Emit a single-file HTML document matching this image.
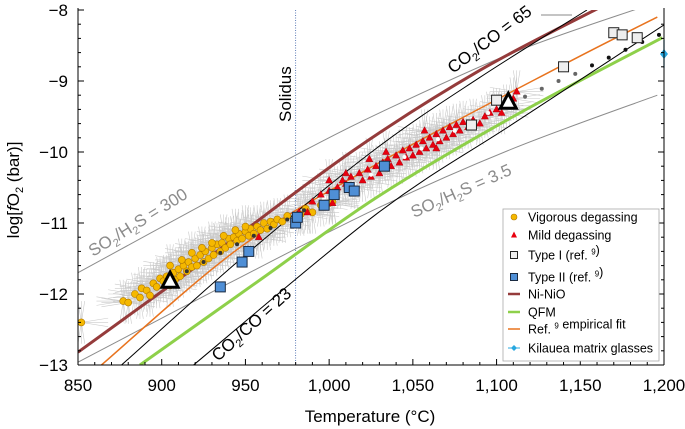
<!DOCTYPE html>
<html><head><meta charset="utf-8"><style>
body{margin:0;background:#fff}
svg{display:block;font-family:"Liberation Sans",sans-serif}
</style></head><body>
<svg id="c" width="685" height="429" viewBox="0 0 685 429"></svg>
<script>
const xTicks=[850,900,950,1000,1050,1100,1150,1200];
const xTickLabels=["850","900","950","1,000","1,050","1,100","1,150","1,200"];
const yTicks=[-13,-12,-11,-10,-9,-8];
const yTickLabels=["\u221213","\u221212","\u221211","\u221210","\u22129","\u22128"];
const niNiO=[[850,-12.82],[930,-11.45],[1015,-9.97],[1090,-8.85],[1162,-7.96]];
const qfm=[[887,-13],[960,-11.78],[1029,-10.63],[1110,-9.5],[1199,-8.39]];
const empFit=[[864,-13],[947,-11.34],[1030,-10.15],[1140,-8.77],[1196,-8.1]];
const co65=[[876,-13],[950,-11.45],[1027,-9.97],[1090,-8.95],[1154,-8]];
const co23=[[919,-13],[1029,-10.86],[1110,-9.6],[1200,-8.21]];
const so300=[[850,-11.7],[920,-10.8],[986,-9.97],[1030,-9.45],[1110,-8.6],[1187,-7.96]];
const so35=[[850,-12.96],[940,-11.85],[1029,-10.79],[1110,-9.95],[1196,-9.2]];
const vigT=[852,877,880,884,887,888,891,893,895,897,899,901,903,905,907,908,910,911,913,915,916,918,920,921,923,925,926,928,930,931,933,935,936,938,940,941,943,945,946,948,950,952,953,955,957,959,961,963,965,967,969,972,975,983,986,990,995,1000,1002,905,912,918,924,930,937,944,950];
const vigY=[-12.4,-12.1,-12.12,-12.0,-12.05,-11.92,-11.95,-12.02,-11.85,-11.9,-11.78,-11.82,-11.75,-11.88,-11.7,-11.8,-11.65,-11.75,-11.6,-11.68,-11.55,-11.62,-11.5,-11.6,-11.45,-11.55,-11.4,-11.5,-11.35,-11.45,-11.3,-11.4,-11.28,-11.35,-11.22,-11.3,-11.2,-11.25,-11.15,-11.22,-11.12,-11.18,-11.08,-11.15,-11.05,-11.1,-11.0,-11.08,-10.98,-11.02,-10.95,-10.98,-10.9,-10.88,-10.8,-10.85,-10.75,-10.72,-10.7,-11.6,-11.52,-11.42,-11.35,-11.28,-11.18,-11.1,-11.05];
const mildT=[958,982,987,1002,990,995,1000,1005,1008,1010,1013,1015,1018,1020,1023,1025,1028,1030,1032,1035,1037,1040,1042,1044,1046,1048,1050,1052,1054,1056,1058,1060,1062,1064,1066,1068,1070,1072,1074,1076,1078,1080,1083,1086,1090,1093,1096,1100,1103,1106,1110,1112,1024,1010,1000,1034,1057,1064];
const mildY=[-11.2,-10.85,-10.85,-10.72,-10.7,-10.6,-10.55,-10.5,-10.4,-10.45,-10.35,-10.5,-10.3,-10.4,-10.25,-10.35,-10.2,-10.3,-10.15,-10.1,-10.2,-10.05,-10.15,-9.98,-10.08,-9.95,-10.05,-9.9,-10.0,-9.85,-9.95,-9.8,-9.9,-9.75,-9.85,-9.7,-9.8,-9.65,-9.75,-9.62,-9.7,-9.58,-9.65,-9.55,-9.6,-9.5,-9.45,-9.4,-9.45,-9.35,-9.25,-9.15,-10.1,-10.3,-10.4,-10.0,-9.7,-9.95];
const t1T=[1085,1100,1140,1170,1175,1184];
const t1Y=[-9.62,-9.27,-8.8,-8.32,-8.35,-8.39];
const t2T=[935,948,952,980,981,997,1003,1012,1015,1033];
const t2Y=[-11.9,-11.55,-11.4,-11.0,-10.92,-10.75,-10.6,-10.5,-10.55,-10.2];
const meanT=[905,915,925,935,945,955,965,975,985,995,1005,1015,1025,1035,1045,1055,1065,1075,1085,1095,1107,1117,1127,1137,1147,1157,1167,1177,1187,1197];
const meanY=[-11.8,-11.68,-11.55,-11.42,-11.3,-11.18,-11.07,-10.95,-10.82,-10.7,-10.57,-10.45,-10.32,-10.2,-10.07,-9.95,-9.82,-9.7,-9.57,-9.45,-9.3,-9.22,-9.11,-9.0,-8.9,-8.78,-8.67,-8.56,-8.45,-8.35];
const bigTriT=[905,1107];
const bigTriY=[-11.82,-9.3];
const kilT=[1200],kilY=[-8.62];

const X0=78,X1=664,Y0=365,Y1=10;
const x=t=>X0+(t-850)/350*(X1-X0);
const y=v=>Y0-(v+13)/5*(Y0-Y1);
const S=document.getElementById('c');
const NS='http://www.w3.org/2000/svg';
function mk(tag,at,parent){const e=document.createElementNS(NS,tag);for(const k in at)e.setAttribute(k,at[k]);(parent||S).appendChild(e);return e;}
const defs=mk('defs',{});const cp=mk('clipPath',{id:'clip'},defs);mk('rect',{x:X0,y:Y1,width:X1-X0,height:Y0-Y1},cp);
const plot=mk('g',{'clip-path':'url(#clip)'});


function curve(pts,stroke,w,name){
  let d='M'+x(pts[0][0])+','+y(pts[0][1]);
  for(let i=1;i<pts.length;i++){const p0=pts[Math.max(0,i-2)],p1=pts[i-1],p2=pts[i],p3=pts[Math.min(pts.length-1,i+1)];
    const c1=[x(p1[0])+(x(p2[0])-x(p0[0]))/6,y(p1[1])+(y(p2[1])-y(p0[1]))/6];
    const c2=[x(p2[0])-(x(p3[0])-x(p1[0]))/6,y(p2[1])-(y(p3[1])-y(p1[1]))/6];
    d+=' C'+c1+' '+c2+' '+x(p2[0])+','+y(p2[1]);}
  const e=mk('path',{d:d,fill:'none',stroke:stroke,'stroke-width':w},plot);
  
  
}
const eb=mk('g',{stroke:'#bdbdbd','stroke-width':0.6,opacity:0.8},plot);
function errs(T,Y){for(let i=0;i<T.length;i++){for(let k=-1;k<=1;k++){mk('line',{x1:x(T[i]-16),x2:x(T[i]+16),y1:y(Y[i]+k*0.06),y2:y(Y[i]-k*0.06)},eb);mk('line',{x1:x(T[i]+k*2),x2:x(T[i]-k*2),y1:y(Y[i]-0.3),y2:y(Y[i]+0.3)},eb);}}}
errs(vigT,vigY);errs(mildT,mildY);
const sol=mk('line',{x1:x(980),x2:x(980),y1:Y1,y2:Y0,stroke:'#3a5fa8','stroke-width':0.8,'stroke-dasharray':'1,1.5'},plot);


curve(so300,'#8c8c8c',1,'so2-h2s-300-line');
curve(so35,'#8c8c8c',1,'so2-h2s-3.5-line');
curve(niNiO,'#953b3b',3,'ni-nio-buffer-line');
curve(empFit,'#e8731e',1.5,'empirical-fit-line');
curve(qfm,'#8ed04a',3,'qfm-buffer-line');
curve(co65,'#000',1,'co2-co-65-line');
curve(co23,'#000',1,'co2-co-23-line');
mk('line',{x1:541,y1:15,x2:572,y2:15,stroke:'#888','stroke-width':1},plot);
for(let i=0;i<vigT.length;i++){const c=mk('circle',{cx:x(vigT[i]),cy:y(vigY[i]),r:3.5,fill:'#f5b800',stroke:'#b07800','stroke-width':0.6},plot);

}
for(let i=0;i<mildT.length;i++){const px=x(mildT[i]),py=y(mildY[i]);const p=mk('polygon',{points:`${px},${py-4} ${px-3.6},${py+2.6} ${px+3.6},${py+2.6}`,fill:'#e8000e',stroke:'#9a0010','stroke-width':0.4},plot);

}
for(let i=0;i<meanT.length;i++){const px=x(meanT[i]),py=y(meanY[i]);const col=meanT[i]<1000?'#333':(meanT[i]<1110?'#fff':(meanT[i]<1150?'#666':'#111'));const c=mk('circle',{cx:px,cy:py,r:2,fill:col},plot);

}
for(let i=0;i<t2T.length;i++){const r=mk('rect',{x:x(t2T[i])-5,y:y(t2Y[i])-5,width:10,height:10,fill:'#4f8fd6',stroke:'#1a2a40','stroke-width':1},plot);

}
for(let i=0;i<t1T.length;i++){const r=mk('rect',{x:x(t1T[i])-5,y:y(t1Y[i])-5,width:10,height:10,fill:'#eee',stroke:'#222','stroke-width':1},plot);

}
for(let i=0;i<bigTriT.length;i++){const px=x(bigTriT[i]),py=y(bigTriY[i]);const p=mk('polygon',{points:`${px},${py-9} ${px-8},${py+6} ${px+8},${py+6}`,fill:'#fff',stroke:'#000','stroke-width':3},plot);

}
for(let i=0;i<kilT.length;i++){const px=x(kilT[i]),py=y(kilY[i]);mk('line',{x1:px,x2:px,y1:py-14,y2:py+14,stroke:'#28a8e0','stroke-width':1.2});const d=mk('polygon',{points:`${px},${py-5} ${px+4},${py} ${px},${py+5} ${px-4},${py}`,fill:'#28a8e0'});

}
const ax=mk('g',{stroke:'#000','stroke-width':1});


mk('line',{x1:X0,x2:X0,y1:Y1-2,y2:Y0},ax);mk('line',{x1:X1,x2:X1,y1:Y1-2,y2:Y0},ax);mk('line',{x1:X0,x2:X1,y1:Y0,y2:Y0},ax);
for(let t=850;t<=1200;t+=10){const L=t%50==0?6:3;mk('line',{x1:x(t),x2:x(t),y1:Y0,y2:Y0-L},ax);}
for(let v=-13;v<=-8.0001;v+=0.2){const m=Math.abs(v-Math.round(v))<0.01;const L=m?6:3;mk('line',{x1:X0,x2:X0+L,y1:y(v),y2:y(v)},ax);mk('line',{x1:X1,x2:X1-L,y1:y(v),y2:y(v)},ax);}
mk('line',{x1:X0,x2:X0+6,y1:y(-8),y2:y(-8)},ax);
function txt(s,at,name,fs){const e=mk('text',Object.assign({'font-size':fs||17},at));e.textContent=s;return e;}
xTicks.forEach((t,i)=>txt(xTickLabels[i],{x:x(t),y:391,'text-anchor':'middle'},'x-tick-label'));
yTicks.forEach((v,i)=>txt(yTickLabels[i],{x:68,y:y(v)+6,'text-anchor':'end'},'y-tick-label'));
txt('Temperature (°C)',{x:370,y:422,'text-anchor':'middle'},'x-axis-title',17);
const yt=mk('text',{'font-size':17,'text-anchor':'middle',transform:'translate(19,190) rotate(-90)'});
yt.innerHTML='log[<tspan font-style="italic">f</tspan>O<tspan font-size="11" dy="4">2</tspan><tspan dy="-4"> (bar)]</tspan>';


txt('Solidus',{transform:'translate(291,122) rotate(-90)','font-size':17},'solidus-label');
function rl(html,tx,ty,rot,col,name){const e=mk('text',{'font-size':17,fill:col,transform:`translate(${tx},${ty}) rotate(${rot})`});e.innerHTML=html;}
rl('SO<tspan font-size="11" dy="4">2</tspan><tspan dy="-4">/H</tspan><tspan font-size="11" dy="4">2</tspan><tspan dy="-4">S = 300</tspan>',93,257,-32,'#8c8c8c','so2-h2s-300-label');
rl('SO<tspan font-size="11" dy="4">2</tspan><tspan dy="-4">/H</tspan><tspan font-size="11" dy="4">2</tspan><tspan dy="-4">S = 3.5</tspan>',414,218,-24,'#8c8c8c','so2-h2s-3.5-label');
rl('CO<tspan font-size="11" dy="4">2</tspan><tspan dy="-4">/CO = 65</tspan>',453,74,-37,'#000','co2-co-65-label');
rl('CO<tspan font-size="11" dy="4">2</tspan><tspan dy="-4">/CO = 23</tspan>',218,362,-42,'#000','co2-co-23-label');
const lg=mk('g',{});


mk('rect',{x:503,y:209,width:156,height:152,fill:'#fff',stroke:'#aaa','stroke-width':0.8},lg);
const items=[['Vigorous degassing','c'],['Mild degassing','t'],['Type I (ref. 9)','s1'],['Type II (ref. 9)','s2'],['Ni-NiO','l1'],['QFM','l2'],['Ref. 9 empirical fit','l3'],['Kilauea matrix glasses','d']];
const ly=[217,235,255,277,294,312,329,348];
items.forEach((it,i)=>{const cy=ly[i],cx=514;const g=mk('g',{},lg);
 if(it[1]=='c')mk('circle',{cx:cx,cy:cy,r:3,fill:'#f5b800',stroke:'#b07800','stroke-width':0.6},g);
 if(it[1]=='t')mk('polygon',{points:`${cx},${cy-3.5} ${cx-3},${cy+2.5} ${cx+3},${cy+2.5}`,fill:'#e8000e'},g);
 if(it[1]=='s1')mk('rect',{x:cx-3.5,y:cy-3.5,width:7,height:7,fill:'#eee',stroke:'#222'},g);
 if(it[1]=='s2')mk('rect',{x:cx-3.5,y:cy-3.5,width:7,height:7,fill:'#4f8fd6',stroke:'#1a2a40'},g);
 if(it[1]=='l1')mk('line',{x1:cx-6,x2:cx+6,y1:cy,y2:cy,stroke:'#953b3b','stroke-width':2.5},g);
 if(it[1]=='l2')mk('line',{x1:cx-6,x2:cx+6,y1:cy,y2:cy,stroke:'#8ed04a','stroke-width':2.5},g);
 if(it[1]=='l3')mk('line',{x1:cx-6,x2:cx+6,y1:cy,y2:cy,stroke:'#e8731e','stroke-width':1.5},g);
 if(it[1]=='d'){mk('line',{x1:cx-6,x2:cx+6,y1:cy,y2:cy,stroke:'#28a8e0','stroke-width':1},g);mk('polygon',{points:`${cx},${cy-3} ${cx+3},${cy} ${cx},${cy+3} ${cx-3},${cy}`,fill:'#28a8e0'},g);}
 const t=mk('text',{x:528,y:cy+4.5,'font-size':12.5},g);
 t.innerHTML=it[0].replace('ref. 9','ref. <tspan font-size="8" dy="-5">9</tspan><tspan dy="5"></tspan>').replace('Ref. 9','Ref. <tspan font-size="8" dy="-5">9</tspan><tspan dy="5"></tspan>');
});
</script>
</body></html>
